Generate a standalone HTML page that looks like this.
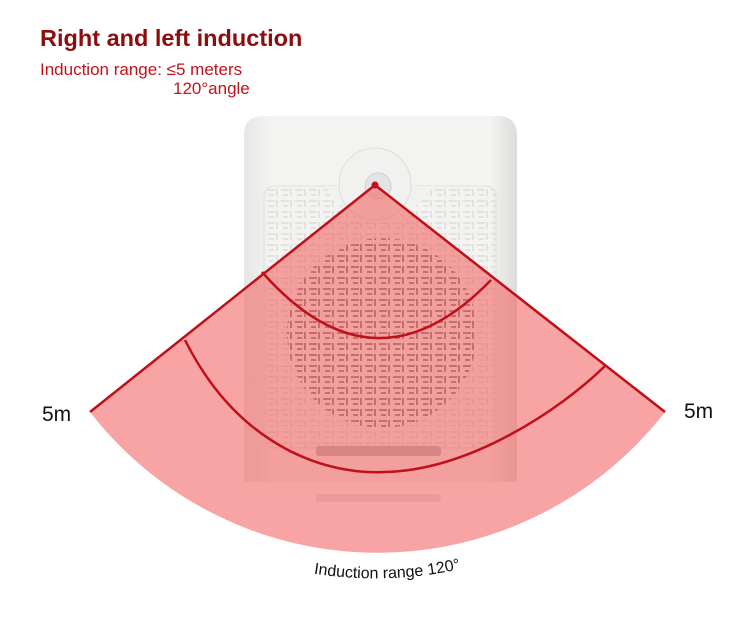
<!DOCTYPE html>
<html><head><meta charset="utf-8"><style>
html,body{margin:0;padding:0;background:#fff;width:750px;height:618px;overflow:hidden}
svg{display:block;font-family:"Liberation Sans",sans-serif}
</style></head><body>
<svg width="750" height="618" viewBox="0 0 750 618">
<defs>
<linearGradient id="dev" x1="0" x2="1"><stop offset="0" stop-color="#e6e6e4"/><stop offset="0.1" stop-color="#f3f3f1"/><stop offset="0.9" stop-color="#f3f3f1"/><stop offset="1" stop-color="#dcdcda"/></linearGradient>
<pattern id="grill" width="14" height="11" patternUnits="userSpaceOnUse"><rect x="1" y="2" width="8" height="2" fill="#8a8a88"/><rect x="10" y="2" width="2" height="7" fill="#8a8a88"/><rect x="3" y="7" width="5" height="2" fill="#8a8a88"/></pattern>
<pattern id="grill2" width="14" height="11" patternUnits="userSpaceOnUse"><rect x="1" y="2" width="8" height="2" fill="#e2e2e0"/><rect x="10" y="2" width="2" height="7" fill="#e2e2e0"/><rect x="3" y="7" width="5" height="2" fill="#e2e2e0"/></pattern>
<path id="arcText" d="M 95 464 A 400 400 0 0 0 655 464" fill="none"/>
</defs>
<text x="40" y="46" font-size="23.5" font-weight="bold" fill="#8b0d0d">Right and left induction</text>
<text x="40" y="75" font-size="17" fill="#c0141c">Induction range: ≤5 meters</text>
<text x="173" y="94" font-size="17" fill="#c0141c">120°angle</text>

<g>
<path d="M 244 135 Q 244 116 264 116 L 497 116 Q 517 116 517 135 L 517 478 Q 517 482 512 482 L 249 482 Q 244 482 244 478 Z" fill="url(#dev)"/>
<rect x="264" y="186" width="232" height="262" rx="10" fill="url(#grill2)" stroke="#e0e0de"/>
<circle cx="382" cy="333" r="95" fill="url(#grill)"/>
<path d="M 325 186 Q 375 260 435 186 Z" fill="#f1f1ef"/>
<circle cx="375" cy="184" r="36" fill="#f1f1ef" stroke="#dddddb"/>
<circle cx="378" cy="186" r="13" fill="#e4e4e6" stroke="#cfcfd2"/>
<rect x="316" y="446" width="125" height="10" rx="3" fill="#b8b8b6"/>
<rect x="316" y="494" width="125" height="8" rx="3" fill="#e8e8e8"/>
</g>

<path d="M 375 185 L 90 412 A 364 364 0 0 0 665 412 Z" fill="#f25a5a" fill-opacity="0.55"/>
<g fill="none" stroke="#c0101a" stroke-width="2.5">
<path d="M 90 412 L 375 185 L 665 412"/>
<path d="M 262 272 Q 375 400 491 280"/>
<path d="M 185 340 C 240 450 330 475 385 472 C 470 470 560 410 605 366"/>
</g>
<circle cx="375" cy="185" r="3.5" fill="#c0101a"/>

<text x="42" y="421" font-size="21" fill="#111">5m</text>
<text x="684" y="418" font-size="21" fill="#111">5m</text>
<text font-size="16" fill="#111"><textPath href="#arcText" startOffset="52%" text-anchor="middle">Induction range 120°</textPath></text>
</svg>
</body></html>
